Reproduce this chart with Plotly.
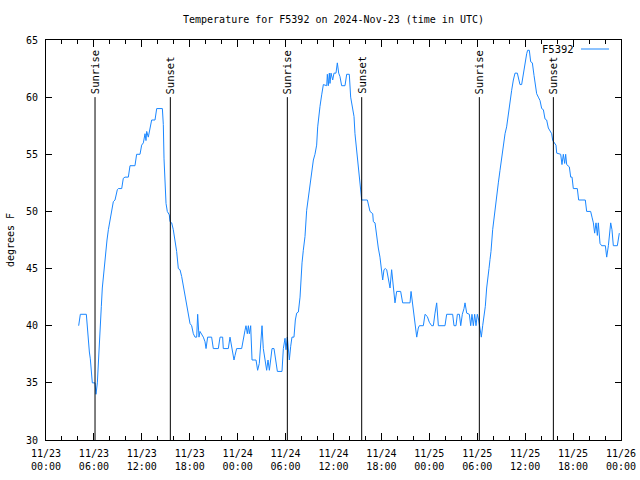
import pandas as pd
import plotly.graph_objects as go

START = "2024-11-23 00:00"

# hours after 2024-11-23 00:00 UTC
hours = [
    4.09, 4.30, 5.05, 5.13, 5.30, 5.43, 5.55, 5.68, 5.80, 6.14, 6.26, 6.43, 6.55, 6.68, 6.80, 6.93,
    7.05, 7.18, 7.35, 7.47, 7.64, 7.81, 8.01, 8.22, 8.43, 8.64, 8.93, 9.06, 9.48, 9.68, 9.89, 10.31,
    10.52, 11.14, 11.35, 11.77, 11.98, 12.19, 12.40, 12.52, 12.61, 12.81, 12.94, 13.23, 13.65, 13.86,
    14.57, 14.69, 14.78, 14.90, 15.03, 15.19, 15.44, 15.53, 15.74, 15.94, 16.15, 16.36, 16.57, 16.78,
    16.99, 17.20, 17.41, 17.61, 17.82, 18.03, 18.24, 18.45, 18.66, 18.87, 18.99, 19.16, 19.28, 19.70,
    19.91, 20.04, 20.24, 20.74, 20.95, 21.58, 21.79, 22.12, 22.20, 22.83, 23.04,
    23.25, 23.54, 23.67, 23.87, 24.50, 24.71, 24.92, 25.04, 25.21, 25.34, 25.46, 25.63, 25.80, 26.30,
    26.50, 26.71, 26.88, 27.05, 27.21, 27.42, 27.63, 27.80, 27.97, 28.13, 28.30, 28.55, 28.80, 28.97,
    29.55, 29.72, 29.93, 30.05, 30.22, 30.34, 30.47, 30.64, 30.80, 31.05, 31.22, 31.39, 31.60, 31.81,
    31.93, 32.06, 32.22, 32.43, 32.64, 32.85, 33.06, 33.27, 33.48, 33.68, 33.89, 34.02, 34.14, 34.31,
    34.52, 34.73, 35.15, 35.23, 35.35, 35.48, 35.56, 35.69, 35.90, 36.06, 36.31, 36.48, 36.65, 36.81,
    37.02, 37.44, 37.65, 37.98, 38.15, 38.40, 38.57, 38.69, 38.90, 39.11, 39.32, 39.44, 39.53, 40.24,
    40.36, 40.57, 40.91, 40.99, 41.20, 41.41, 41.61, 41.82, 42.03, 42.16, 42.32, 42.49, 42.66, 42.87,
    43.08, 43.28, 43.49, 43.70, 43.91, 44.41, 44.66, 45.58, 45.71, 45.87, 46.00, 46.21, 46.42, 46.62,
    46.75, 47.25, 47.46, 47.75, 48.00, 48.29, 48.50, 48.71, 48.92, 49.13, 49.42, 49.96, 50.17, 50.92,
    51.09, 51.34, 51.51, 51.76, 51.93, 52.13, 52.34, 52.47, 52.68, 53.01, 53.18, 53.34, 53.51, 53.68,
    53.84, 54.01, 54.18, 54.35, 54.51, 54.68, 54.85, 55.01, 55.18, 55.31, 55.47, 55.60, 55.72, 55.93,
    56.10, 56.27, 56.43, 56.64, 56.85, 57.06, 57.27, 57.48, 57.68, 57.89, 58.10, 58.31, 58.52, 58.73,
    59.02, 59.19, 59.35, 59.56, 59.77, 59.98, 60.19, 60.31, 60.52, 60.69, 60.90, 61.11, 61.27, 61.44,
    61.65, 61.86, 62.07, 62.28, 62.48, 62.69, 62.90, 63.11, 63.32, 63.45, 63.61, 63.86, 63.95, 64.45,
    64.61, 64.78, 64.95, 65.07, 65.20, 65.53, 65.70, 65.87, 66.03, 66.53, 66.70, 67.53, 67.70, 68.20,
    68.37, 68.54, 68.70, 68.87, 69.04, 69.16, 69.37, 69.58, 70.04, 70.21, 70.42, 70.54, 70.71, 70.87,
    71.04, 71.54, 71.71, 71.79,
]

temps_f = [
    40, 41, 41, 40.2, 38.7, 37.7, 37.1, 35.5, 35, 35, 34, 35, 36.9, 38.5, 40.2, 41.7,
    43.3, 44.3, 45.3, 46.5, 47.5, 48.4, 49.1, 50, 50.85, 51, 51.9, 52, 52, 52.9, 53, 53,
    54, 54, 55, 55, 55.8, 56, 56.8, 56.2, 57, 56.5, 57.1, 58, 58, 59,
    59, 57.6, 54.6, 52.3, 50.7, 50, 49.7, 49.1, 49, 48.4, 47.5, 46.5, 45, 44.9,
    44.3, 43.4, 42.5, 41.7, 41, 40.2, 40, 39.3, 39, 39, 41, 39, 39.5, 39,
    38.6, 38, 39, 39, 38, 38, 39, 39, 38, 38, 39,
    38, 37, 37.4, 38, 38, 39, 39.6, 40, 39.3, 40, 39.3, 40, 37, 37,
    36.1, 36.7, 38, 40, 38, 37, 36.1, 37, 36.1, 37, 38, 38, 37, 36,
    36, 38, 38.9, 37.9, 39, 37.6, 37, 38.2, 39, 39, 40.5, 41.1, 41.2, 42.5,
    44.1, 45.5, 46.6, 47.8, 50.1, 51.3, 52.5, 53.6, 54.5, 55, 55.8, 57.4, 58.3, 59.2,
    60.2, 61.1, 61, 62, 61, 62.1, 61.2, 62.1, 61.5, 62.1, 62.1, 63, 62.1, 61.8,
    61, 61, 62, 62, 60, 59, 58.3, 56.8, 55.4, 53.9, 52.6, 51.6, 51, 51,
    50.7, 50, 49.8, 49.1, 49, 47.6, 46.8, 46, 44.9, 44, 44.9, 45, 44.9, 44,
    43.3, 44.9, 43.7, 42, 43, 43, 42, 42, 43, 42, 41.1, 40, 39, 39.8,
    40, 40, 41, 40.8, 40.3, 40, 40, 41.1, 42, 40, 40, 40, 41, 41,
    40, 40, 41, 41, 40, 41, 41.5, 42, 41.1, 41, 40, 41, 40, 41,
    40, 41, 40.5, 39.5, 39, 40, 41, 41.7, 43.3, 44.3, 45, 45.8, 46.5, 48.4,
    49.5, 50.7, 51.6, 52.5, 53.6, 54.8, 56, 56.8, 57.4, 58.6, 59.6, 60.6, 61.5, 62.1,
    62.1, 61.5, 61.1, 61.1, 62.1, 63, 63.8, 64.1, 64.1, 63.1, 63, 61.9, 61.2, 60.3,
    60, 59.7, 59, 58.9, 58.1, 58, 57.3, 57.1, 56.8, 56.2, 56, 55.8, 55.1, 55,
    54.1, 55, 54.2, 55, 54.1, 53.9, 53, 53, 52, 52, 51, 51, 50, 50,
    49.5, 49, 48.1, 49, 47.9, 49, 47.2, 47, 47, 46, 47, 47.8, 49, 48.4,
    47, 47, 48, 48.1,
]

sun_event_hours = [6.14, 15.57, 30.22, 39.53, 54.26, 63.53]
sun_event_labels = ["Sunrise", "Sunset", "Sunrise", "Sunset", "Sunrise", "Sunset"]
sun_line_top = 60

tick_hours = [0, 6, 12, 18, 24, 30, 36, 42, 48, 54, 60, 66, 72]
tick_labels = ["11/23<br>00:00", "11/23<br>06:00", "11/23<br>12:00", "11/23<br>18:00",
               "11/24<br>00:00", "11/24<br>06:00", "11/24<br>12:00", "11/24<br>18:00",
               "11/25<br>00:00", "11/25<br>06:00", "11/25<br>12:00", "11/25<br>18:00",
               "11/26<br>00:00"]
y_ticks = [30, 35, 40, 45, 50, 55, 60, 65]

t0 = pd.Timestamp(START)


def to_time(h):
    return t0 + pd.Timedelta(hours=h)


times = [to_time(h) for h in hours]
tick_times = [to_time(h) for h in tick_hours]

FONT = "DejaVu Sans Mono"
LINE_COLOR = "#1a87ff"
W, H = 640, 480
ML, MR, MT, MB = 46, 19, 40, 40
PW, PH = W - ML - MR, H - MT - MB

fig = go.Figure()
fig.add_trace(go.Scatter(x=times, y=temps_f, mode="lines", name="F5392",
                         line=dict(color=LINE_COLOR, width=1), showlegend=False))

for h, lab in zip(sun_event_hours, sun_event_labels):
    t = to_time(h)
    fig.add_shape(type="line", x0=t, x1=t, y0=30, y1=sun_line_top, xref="x", yref="y",
                  line=dict(color="black", width=1))
    fig.add_annotation(x=t, y=sun_line_top, xref="x", yref="y", text=lab, textangle=-90,
                       showarrow=False, yanchor="bottom", xanchor="center", yshift=1,
                       font=dict(family=FONT, size=10.5, color="black"))

# gnuplot-style legend: text then sample line (top right inside plot)
leg_y = (H - MB - 49) / PH
fig.add_annotation(x=(576 - ML) / PW, y=leg_y, xref="paper", yref="paper",
                   text="F5392", showarrow=False, xanchor="right", yanchor="middle",
                   font=dict(family=FONT, size=10.5, color="black"))
fig.add_shape(type="line", xref="paper", yref="paper",
              x0=(581 - ML) / PW, x1=(609 - ML) / PW, y0=leg_y, y1=leg_y,
              line=dict(color=LINE_COLOR, width=1))

axis_common = dict(showgrid=False, zeroline=False, showline=True, linecolor="black",
                   linewidth=1, mirror="allticks", ticks="inside", tickcolor="black",
                   tickfont=dict(family=FONT, size=10, color="black"))

fig.update_xaxes(range=[tick_times[0], tick_times[-1]], tickvals=tick_times, ticktext=tick_labels,
                 ticklen=7, tickwidth=1, ticklabelstandoff=4,
                 minor=dict(dtick=2 * 3600 * 1000, ticks="inside", ticklen=4,
                            tickcolor="black", showgrid=False),
                 **axis_common)
fig.update_yaxes(range=[30, 65], tickvals=y_ticks, ticklen=6, tickwidth=1, ticklabelstandoff=5,
                 title=dict(text="degrees F", font=dict(family=FONT, size=10, color="black"),
                            standoff=9),
                 **axis_common)

fig.update_layout(
    width=W, height=H,
    margin=dict(l=ML, r=MR, t=MT, b=MB, autoexpand=False),
    paper_bgcolor="white", plot_bgcolor="white",
    title=dict(text="Temperature for F5392 on 2024-Nov-23 (time in UTC)",
               x=0.5, xref="paper", y=1 - 19 / H, yanchor="middle",
               font=dict(family=FONT, size=10, color="black")),
    font=dict(family=FONT, size=10, color="black"),
)

fig.write_html("out.html", config={"displayModeBar": False},
               post_script="document.body.style.margin='0';")
